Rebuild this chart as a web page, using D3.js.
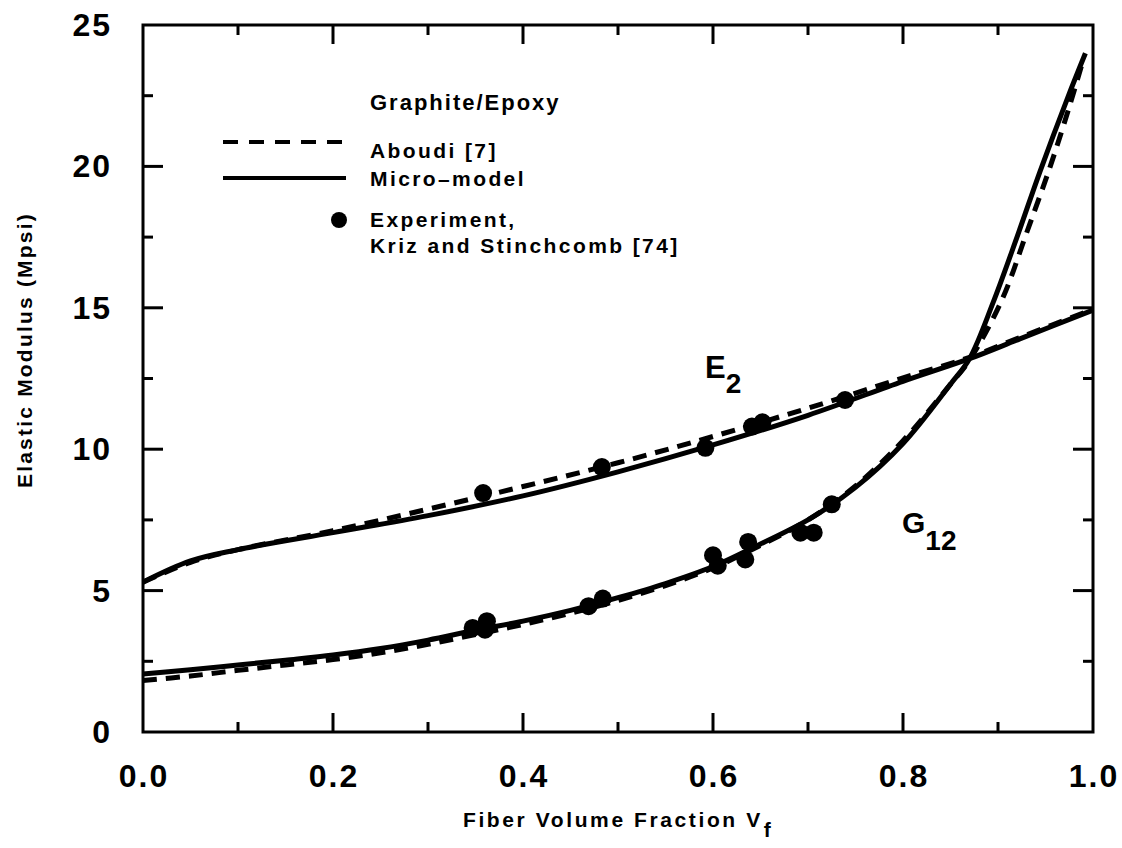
<!DOCTYPE html>
<html>
<head>
<meta charset="utf-8">
<script src="https://cdn.jsdelivr.net/npm/d3@7/dist/d3.min.js"></script>
<style>
  html, body { margin: 0; padding: 0; background: #fff; }
  svg { display: block; }
  text { font-family: "Liberation Sans", Arial, Helvetica, sans-serif; font-weight: bold; fill: #000; }
</style>
</head>
<body>
<svg id="chart" width="1122" height="848"></svg>
<script>
// Transverse modulus E2 and shear modulus G12 of graphite/epoxy vs. fiber volume fraction
const e2MicroVf  = [0, 0.05, 0.1, 0.2, 0.3, 0.4, 0.5, 0.6, 0.7, 0.8, 0.87, 0.923, 1.0];
const e2Micro    = [5.3, 6.05, 6.45, 7.05, 7.65, 8.35, 9.2, 10.15, 11.2, 12.4, 13.2, 13.9, 14.92];
const e2AboudiVf = [0, 0.05, 0.1, 0.2, 0.3, 0.4, 0.5, 0.6, 0.7, 0.8, 0.87, 0.923, 1.0];
const e2Aboudi   = [5.3, 6.0, 6.45, 7.12, 7.88, 8.68, 9.52, 10.45, 11.45, 12.52, 13.25, 13.95, 14.95];

const g12MicroVf  = [0, 0.05, 0.1, 0.15, 0.2, 0.25, 0.3, 0.35, 0.4, 0.45, 0.5, 0.55, 0.6, 0.65, 0.7, 0.75, 0.8, 0.85, 0.87, 0.895, 0.92, 0.944, 0.973, 0.992];
const g12Micro    = [2.05, 2.2, 2.37, 2.54, 2.72, 2.95, 3.25, 3.6, 3.92, 4.3, 4.75, 5.25, 5.85, 6.65, 7.5, 8.65, 10.2, 12.3, 13.2, 15.2, 17.5, 19.8, 22.4, 24.0];
const g12AboudiVf = [0, 0.05, 0.1, 0.15, 0.2, 0.25, 0.3, 0.35, 0.4, 0.45, 0.5, 0.55, 0.6, 0.65, 0.7, 0.75, 0.8, 0.85, 0.87, 0.904, 0.93, 0.955, 0.975, 0.99];
const g12Aboudi   = [1.82, 1.98, 2.18, 2.37, 2.56, 2.8, 3.1, 3.45, 3.8, 4.2, 4.65, 5.18, 5.8, 6.6, 7.5, 8.7, 10.3, 12.3, 13.15, 15.27, 17.64, 20.0, 22.1, 23.8];

const e2ExpVf  = [0.358, 0.483, 0.592, 0.641, 0.652, 0.739];
const e2Exp    = [8.45, 9.37, 10.05, 10.8, 10.95, 11.74];
const g12ExpVf = [0.347, 0.362, 0.360, 0.469, 0.484, 0.600, 0.605, 0.634, 0.637, 0.692, 0.706, 0.725];
const g12Exp   = [3.68, 3.92, 3.62, 4.45, 4.72, 6.25, 5.88, 6.1, 6.72, 7.05, 7.05, 8.05];

const xTicks = [0, 0.2, 0.4, 0.6, 0.8, 1.0];
const yTicks = [0, 5, 10, 15, 20, 25];
const legendLabels = ["Aboudi [7]", "Micro\u2013model", "Experiment,", "Kriz and Stinchcomb [74]"];

const svg = d3.select("#chart");
const x = d3.scaleLinear().domain([0, 1]).range([143, 1093]);
const y = d3.scaleLinear().domain([0, 25]).range([732, 25]);

// frame
svg.append("rect")
  .attr("x", x(0)).attr("y", y(25))
  .attr("width", x(1) - x(0)).attr("height", y(0) - y(25))
  .attr("fill", "none").attr("stroke", "#000").attr("stroke-width", 3);

// inward ticks on all four sides
const xMinor = d3.range(0, 11).map(i => i / 10);
const yMinor = d3.range(0, 11).map(i => i * 2.5);
const tk = svg.append("g").attr("stroke", "#000").attr("stroke-width", 3);
xMinor.forEach((v, i) => {
  const len = i % 2 === 0 ? 19 : 10;
  if (i === 0 || i === 10) return;
  tk.append("line").attr("x1", x(v)).attr("x2", x(v)).attr("y1", y(0)).attr("y2", y(0) - len);
  tk.append("line").attr("x1", x(v)).attr("x2", x(v)).attr("y1", y(25)).attr("y2", y(25) + len);
});
yMinor.forEach((v, i) => {
  const len = i % 2 === 0 ? 20 : 10;
  if (i === 0 || i === 10) return;
  tk.append("line").attr("y1", y(v)).attr("y2", y(v)).attr("x1", x(0)).attr("x2", x(0) + len);
  tk.append("line").attr("y1", y(v)).attr("y2", y(v)).attr("x1", x(1)).attr("x2", x(1) - len);
});

// tick labels
svg.append("g").selectAll("text").data(xTicks).join("text")
  .attr("x", d => x(d) + 1).attr("y", 787)
  .attr("text-anchor", "middle")
  .attr("font-size", 32).attr("letter-spacing", 2)
  .text(d => d.toFixed(1));
svg.append("g").selectAll("text").data(yTicks).join("text")
  .attr("x", 112).attr("y", d => y(d) + 11)
  .attr("text-anchor", "end")
  .attr("font-size", 32).attr("letter-spacing", 2)
  .text(d => d);

// axis titles
const xt = svg.append("text").attr("x", 463).attr("y", 827).attr("font-size", 21).attr("letter-spacing", 2.6);
xt.append("tspan").text("Fiber Volume Fraction V");
xt.append("tspan").attr("dy", 10).attr("dx", 1).text("f");
svg.append("text")
  .attr("transform", "translate(32,488) rotate(-90)")
  .attr("font-size", 21).attr("letter-spacing", 2.2)
  .text("Elastic Modulus (Mpsi)");

// curves
const line = d3.line().x(d => x(d[0])).y(d => y(d[1])).curve(d3.curveCatmullRom.alpha(0.5));
const zip = (a, b) => a.map((v, i) => [v, b[i]]);
const curves = svg.append("g").attr("fill", "none").attr("stroke", "#000").attr("stroke-width", 5)
  .attr("stroke-linecap", "butt").attr("stroke-linejoin", "round");
curves.append("path").attr("d", line(zip(e2AboudiVf, e2Aboudi))).attr("stroke-dasharray", "14,9");
curves.append("path").attr("d", line(zip(g12AboudiVf, g12Aboudi))).attr("stroke-dasharray", "14,9");
curves.append("path").attr("d", line(zip(e2MicroVf, e2Micro)));
curves.append("path").attr("d", line(zip(g12MicroVf, g12Micro)));

// experimental points
const pts = zip(e2ExpVf, e2Exp).concat(zip(g12ExpVf, g12Exp));
svg.append("g").selectAll("circle").data(pts).join("circle")
  .attr("cx", d => x(d[0])).attr("cy", d => y(d[1])).attr("r", 9).attr("fill", "#000");

// curve labels
const e2l = svg.append("text").attr("x", 705).attr("y", 378).attr("font-size", 31);
e2l.append("tspan").text("E");
e2l.append("tspan").attr("dy", 15).attr("font-size", 28).text("2");
const g12l = svg.append("text").attr("x", 902).attr("y", 533).attr("font-size", 30);
g12l.append("tspan").text("G");
g12l.append("tspan").attr("dy", 17).attr("font-size", 28).text("12");

// legend
const lg = svg.append("g");
lg.append("text").attr("x", 370).attr("y", 110).attr("font-size", 22).attr("letter-spacing", 2).text("Graphite/Epoxy");
lg.append("line").attr("x1", 223).attr("x2", 346).attr("y1", 142).attr("y2", 142)
  .attr("stroke", "#000").attr("stroke-width", 4).attr("stroke-dasharray", "15,11");
lg.append("line").attr("x1", 223).attr("x2", 346).attr("y1", 178).attr("y2", 178)
  .attr("stroke", "#000").attr("stroke-width", 4);
lg.append("circle").attr("cx", 339).attr("cy", 220).attr("r", 8).attr("fill", "#000");
lg.append("text").attr("x", 370).attr("y", 158).attr("font-size", 21).attr("letter-spacing", 2.4).text(legendLabels[0]);
lg.append("text").attr("x", 370).attr("y", 186).attr("font-size", 21).attr("letter-spacing", 2.4).text(legendLabels[1]);
lg.append("text").attr("x", 370).attr("y", 227).attr("font-size", 21).attr("letter-spacing", 2.4).text(legendLabels[2]);
lg.append("text").attr("x", 370).attr("y", 253).attr("font-size", 21).attr("letter-spacing", 2.4).text(legendLabels[3]);
</script>
</body>
</html>
